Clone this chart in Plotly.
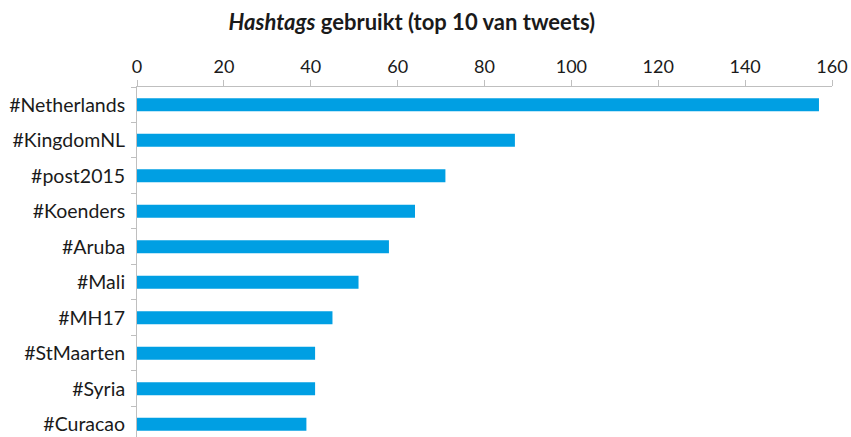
import plotly.graph_objects as go

categories = ["#Netherlands", "#KingdomNL", "#post2015", "#Koenders", "#Aruba",
              "#Mali", "#MH17", "#StMaarten", "#Syria", "#Curacao"]
values = [157, 87, 71, 64, 58, 51, 45, 41, 41, 39]
x_ticks = [0, 20, 40, 60, 80, 100, 120, 140, 160]

fig = go.Figure(go.Bar(
    x=values, y=categories, orientation="h",
    marker=dict(color="#009FE3", line=dict(width=0)),
    width=0.37,
))

fig.update_layout(
    width=851, height=437,
    margin=dict(l=137, r=19, t=87, b=0, autoexpand=False),
    paper_bgcolor="white", plot_bgcolor="white",
    font=dict(family="Lato, Open Sans, sans-serif", color="#1a1a1a"),
    title=dict(text="<b><i>Hashtags</i> gebruikt (top 10 van tweets)</b>",
               x=0.484, xanchor="center", y=0.95, yanchor="middle",
               font=dict(size=22, color="#1a1a1a")),
    showlegend=False,
)
fig.update_xaxes(
    side="top", range=[0, 160], tickvals=x_ticks, ticktext=[str(v) for v in x_ticks],
    showgrid=False, zeroline=False, showline=True, linecolor="#BFBFBF", linewidth=1,
    ticks="outside", ticklen=6, tickcolor="#BFBFBF", tickfont=dict(size=18),
    automargin=False,
)
fig.update_yaxes(
    type="category", range=[9.36, -0.5], showgrid=False, zeroline=False,
    showline=True, linecolor="#BFBFBF", linewidth=1,
    ticks="outside", tickson="boundaries", ticklen=5, tickcolor="#BFBFBF",
    tickfont=dict(size=19.5), ticklabelstandoff=7, automargin=False,
)

fig.write_html("out.html", config={"displayModeBar": False},
               post_script="document.body.style.margin='0px';document.body.style.overflow='hidden';")
